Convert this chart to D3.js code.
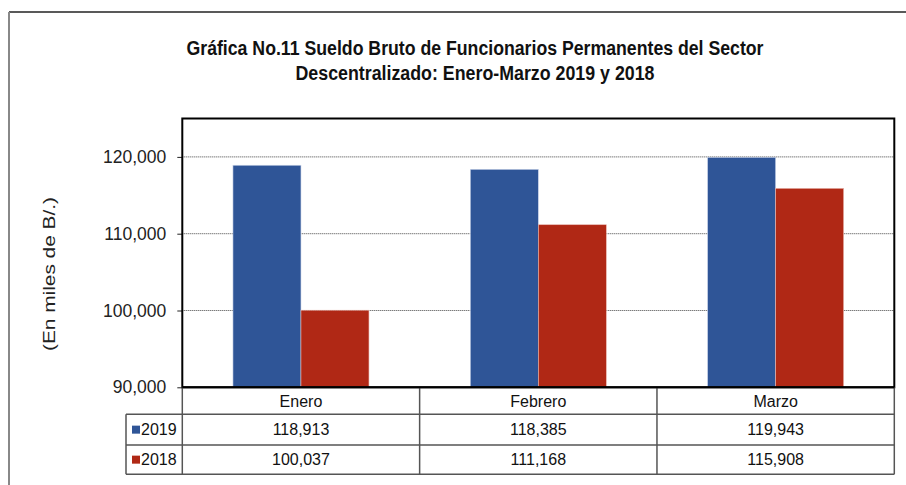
<!DOCTYPE html>
<html><head><meta charset="utf-8">
<script src="https://cdn.jsdelivr.net/npm/d3@7"></script>
<style>body{margin:0;background:#fff}svg{display:block;font-family:"Liberation Sans",Arial,sans-serif}</style>
</head><body><svg id="c" width="906" height="485"></svg>
<script>
const categories = ["Enero", "Febrero", "Marzo"];
const seriesNames = ["2019", "2018"];
const values2019 = [118913, 118385, 119943];
const values2018 = [100037, 111168, 115908];
const yTicks = [90000, 100000, 110000, 120000];
const titleLines = ["Gráfica No.11 Sueldo Bruto de Funcionarios Permanentes del Sector", "Descentralizado: Enero-Marzo 2019 y 2018"];
const yTitle = "(En miles de B/.)";
const colors = ["#2F5597", "#B02815"];

const svg = d3.select("#c");
const L = 182.3, R = 894.3, T = 118.5, B = 387.3;
const series = [values2019, values2018];

// outer frame
svg.append("line").attr("x1",9).attr("x2",906).attr("y1",12).attr("y2",12).attr("stroke","#222").attr("stroke-width",1.5);
svg.append("line").attr("x1",9).attr("x2",9).attr("y1",12).attr("y2",485).attr("stroke","#888").attr("stroke-width",2);

// title
const tl = [577, 359];
titleLines.forEach((t,i)=>{
  svg.append("text").attr("x",475).attr("y",55+i*25).attr("text-anchor","middle")
    .attr("font-size",20).attr("font-weight","bold").attr("fill","#111")
    .attr("textLength",tl[i]).attr("lengthAdjust","spacingAndGlyphs").text(t);
});

const x = d3.scaleBand().domain(categories).range([L,R]).paddingInner(0).paddingOuter(0);
const y = d3.scaleLinear().domain([90000,125000]).range([B,T]);
const inner = d3.scaleBand().domain(seriesNames).range([0,x.bandwidth()]).paddingInner(0).paddingOuter(0.745);

// gridlines
svg.append("g").selectAll("line").data(yTicks.filter(v=>v>90000)).join("line")
  .attr("x1",L).attr("x2",R).attr("y1",d=>y(d)).attr("y2",d=>y(d))
  .attr("stroke","#444").attr("stroke-width",1).attr("stroke-dasharray","1,1");

// bars
categories.forEach((c,ci)=>{
  seriesNames.forEach((s,si)=>{
    svg.append("rect").attr("x",x(c)+inner(s)).attr("width",inner.bandwidth())
      .attr("y",y(series[si][ci])).attr("height",B-y(series[si][ci]))
      .attr("fill",colors[si]).attr("stroke", si===0?"#c9d3e8":"#e8b8b0").attr("stroke-width",0.6);
  });
});

// y axis
const ya = d3.axisLeft(y).tickValues(yTicks).tickSize(5).tickPadding(11).tickFormat(d3.format(","));
const g = svg.append("g").attr("transform",`translate(${L},0)`).call(ya);
g.select(".domain").remove();
g.selectAll(".tick line").attr("stroke","#222");
g.selectAll(".tick text").attr("font-size",17.5).attr("fill","#222").attr("font-family","Liberation Sans, Arial, sans-serif");

// plot border
svg.append("rect").attr("x",L).attr("y",T).attr("width",R-L).attr("height",B-T).attr("fill","none").attr("stroke","#000").attr("stroke-width",2);

// y title
svg.append("text").attr("transform","translate(55,274) rotate(-90)").attr("text-anchor","middle")
  .attr("font-size",17).attr("fill","#222").attr("textLength",154).attr("lengthAdjust","spacingAndGlyphs").text(yTitle);

// data table
const rowY = [B, 414.3, 445, 474.3];
const tx0 = 126;
const tg = svg.append("g").attr("stroke","#555").attr("stroke-width",1.5);
[1,2,3].forEach(i=>tg.append("line").attr("x1",tx0).attr("x2",R).attr("y1",rowY[i]).attr("y2",rowY[i]));
tg.append("line").attr("x1",tx0).attr("x2",tx0).attr("y1",rowY[1]).attr("y2",rowY[3]);
[L, ...categories.map(c=>x(c)+x.bandwidth())].forEach(xx=>tg.append("line").attr("x1",xx).attr("x2",xx).attr("y1",B).attr("y2",rowY[3]));
svg.append("line").attr("x1",L).attr("x2",R).attr("y1",B).attr("y2",B).attr("stroke","#000").attr("stroke-width",2);

categories.forEach(c=>{
  svg.append("text").attr("x",x(c)+x.bandwidth()/2).attr("y",(rowY[0]+rowY[1])/2).attr("dy","0.36em")
    .attr("text-anchor","middle").attr("font-size",16).attr("fill","#111").text(c);
});
const fmt = d3.format(",");
seriesNames.forEach((s,si)=>{
  const cy = (rowY[si+1]+rowY[si+2])/2;
  svg.append("rect").attr("x",132).attr("y",cy-4).attr("width",8).attr("height",8).attr("fill",colors[si]);
  svg.append("text").attr("x",141).attr("y",cy).attr("dy","0.36em").attr("font-size",16).attr("fill","#111").text(s);
  categories.forEach((c,ci)=>{
    svg.append("text").attr("x",x(c)+x.bandwidth()/2).attr("y",cy).attr("dy","0.36em")
      .attr("text-anchor","middle").attr("font-size",16).attr("fill","#111").text(fmt(series[si][ci]));
  });
});
</script></body></html>
